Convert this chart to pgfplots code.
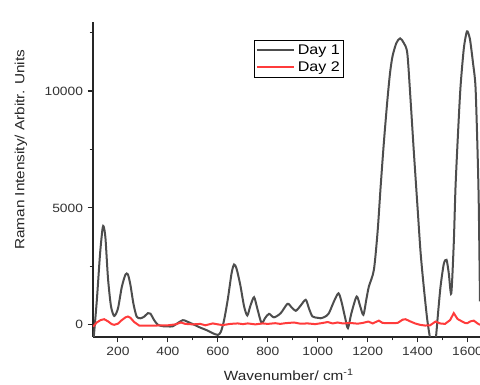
\documentclass[border=0pt]{standalone}
\usepackage{fontspec}
\setmainfont{Liberation Sans}[FakeStretch=1.15]
\usepackage{pgfplots}
\pgfplotsset{compat=1.18}
\definecolor{dayone}{HTML}{4D4D4D}
\definecolor{daytwo}{HTML}{FF3B3B}
\definecolor{ticktxt}{HTML}{333333}
\begin{document}
\begin{tikzpicture}
\begin{axis}[
  at={(0,0)}, anchor=south west,
  scale only axis,
  width=290.25pt, height=236.25pt,
  xmin=100, xmax=1650, ymin=-520, ymax=12950,
  axis x line*=bottom, axis y line*=left,
  axis line style={line width=0.8pt, color=black!85},
  xtick={200,400,...,1600},
  minor xtick={300,500,...,1500},
  ytick={0,5000,10000},
  minor ytick={2500,7500,12500},
  scaled y ticks=false, scaled x ticks=false,
  tick align=outside,
  major tick length=4pt, minor tick length=2.5pt,
  tick style={line width=0.8pt, color=black!85},
  /pgf/number format/assume math mode=true,
  /pgf/number format/1000 sep={},
  tick label style={font=\fontsize{9}{10}\selectfont, color=ticktxt},
  xlabel={Wavenumber/ cm\textsuperscript{-1}},
  ylabel={Raman Intensity/ Arbitr. Units},
  label style={font=\fontsize{10}{12}\selectfont, color=black!85},
  xlabel style={at={(axis description cs:0.506,-0.12)}, anchor=center},
  ylabel style={at={(axis description cs:-0.186,0.594)}, anchor=center},
  legend style={at={(0.416,0.943)}, anchor=north west, draw=black, line width=0.8pt,
    font=\fontsize{10.5}{12}\selectfont, inner sep=1pt, row sep=0pt,
    fill=white},
  legend cell align=left,
  legend image code/.code={\draw[#1, line width=1.5pt] (0pt,0pt) -- (28pt,0pt);},
]
\addplot[dayone, line width=1.5pt, smooth, tension=0.45] coordinates {
(100,-900) (115,1000) (128,3000) (138,4100) (143,4200) (150,3700) (160,2000)
(172,800) (185,380) (200,700) (215,1600) (230,2150) (240,2150) (250,1700)
(262,900) (275,350) (290,280) (305,350) (320,500) (330,480) (345,200)
(360,0) (380,-60) (400,-70) (420,-60) (440,80) (460,200) (475,150)
(500,30) (530,-120) (560,-250) (580,-360) (600,-430) (612,-300) (625,200)
(640,1100) (655,2200) (665,2580) (675,2400) (690,1700) (705,800) (718,400)
(730,800) (745,1180) (758,700) (775,80) (790,300) (805,470) (825,320)
(852,500) (879,900) (895,750) (912,600) (930,800) (952,1070) (965,700)
(979,360) (1000,300) (1012,280) (1030,350) (1045,500) (1065,1000) (1083,1350)
(1095,1000) (1110,300) (1121,-140) (1135,500) (1156,1210) (1170,800) (1183,430)
(1195,1100) (1205,1640) (1225,2350) (1240,4000) (1252,5900) (1265,7800)
(1279,9600) (1290,10800) (1300,11500) (1315,12050) (1330,12250) (1345,12050)
(1359,11600) (1372,9600) (1385,7400) (1400,5000) (1412,3100) (1425,1600)
(1439,200) (1452,-700) (1462,-1200) (1472,-700) (1482,500) (1492,1640)
(1505,2600) (1516,2780) (1525,2200) (1535,1350) (1545,3500) (1552,5900)
(1562,8200) (1572,10180) (1585,11800) (1595,12450) (1600,12550) (1610,12200)
(1622,11200) (1632,10180) (1640,7500) (1645,5200) (1650,1000)
};
\addlegendentry{Day 1}
\addplot[daytwo, line width=1.5pt] coordinates {
(100,-80) (115,100) (130,200) (145,240) (160,150) (175,30) (185,0) (200,50)
(215,200) (230,320) (240,355) (250,300) (265,120) (285,-30) (300,-30) (350,-30)
(400,-20) (430,20) (452,100) (470,40) (500,20) (530,40) (550,-20) (580,60)
(600,20) (620,-10) (650,40) (680,60) (700,30) (720,60) (750,20) (780,60)
(800,40) (830,70) (850,40) (870,70) (905,100) (930,50) (960,60) (990,30)
(1020,80) (1040,120) (1060,60) (1080,100) (1100,60) (1130,80) (1160,50)
(1180,80) (1203,140) (1220,60) (1245,180) (1260,80) (1290,70) (1320,80)
(1340,220) (1352,240) (1370,150) (1390,60) (1410,0) (1430,-30) (1450,-20)
(1472,140) (1490,60) (1510,40) (1530,200) (1545,500) (1560,250) (1579,140)
(1590,80) (1599,70) (1612,150) (1625,180) (1640,60) (1650,0)
};
\addlegendentry{Day 2}
\end{axis}
\pgfresetboundingbox
\path (-69.75pt,-36pt) rectangle (290.25pt,252.75pt);
\end{tikzpicture}
\end{document}
